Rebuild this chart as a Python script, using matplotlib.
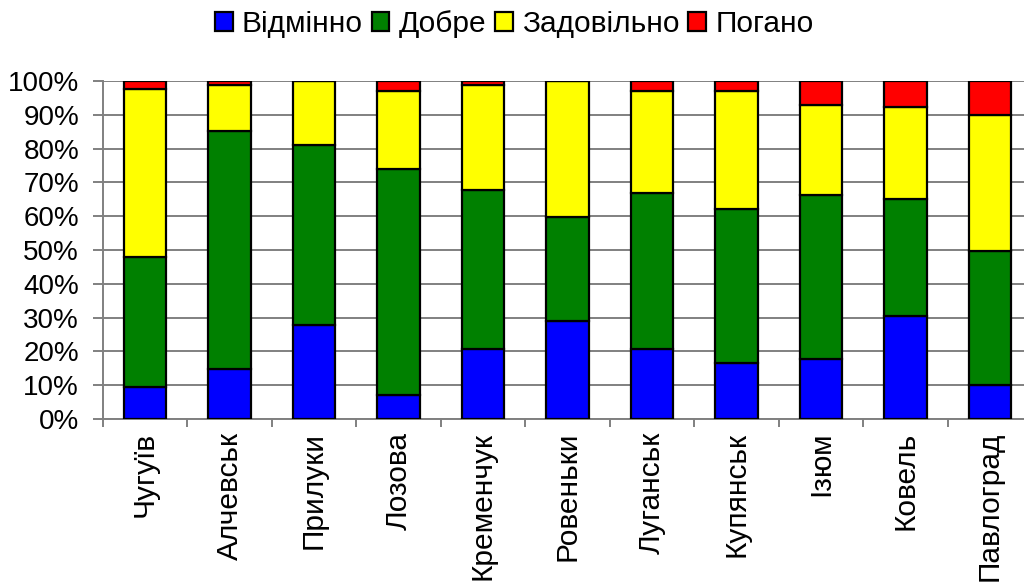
import matplotlib
matplotlib.use("Agg")
import matplotlib.pyplot as plt
import numpy as np
from matplotlib.ticker import PercentFormatter

# Дані (частки у відсотках), зчитані з діаграми
міста = ["Чугуїв", "Алчевськ", "Прилуки", "Лозова", "Кременчук", "Ровеньки",
         "Луганськ", "Купянськ", "Ізюм", "Ковель", "Павлоград"]
відмінно = [9.5, 14.8, 27.8, 7.1, 20.7, 29.0, 20.7, 16.5, 17.7, 30.6, 10.1]
добре = [38.5, 70.4, 53.3, 66.9, 46.9, 30.9, 46.3, 45.7, 48.5, 34.5, 39.6]
задовільно = [49.5, 13.6, 18.9, 22.9, 31.2, 40.1, 29.9, 34.7, 26.7, 27.1, 40.1]
погано = [2.5, 1.2, 0.0, 3.1, 1.2, 0.0, 3.1, 3.1, 7.1, 7.8, 10.2]

серії = [("Відмінно", відмінно, "#0000FF"),
         ("Добре", добре, "#008000"),
         ("Задовільно", задовільно, "#FFFF00"),
         ("Погано", погано, "#FF0000")]

plt.rcParams["font.family"] = ["Liberation Sans", "DejaVu Sans"]
plt.rcParams["font.size"] = 20

fig = plt.figure(figsize=(10.24, 5.83), dpi=100)
ax = fig.add_axes([0.1003, 0.2813, 0.9077, 0.5798])

x = np.arange(len(міста))
низ = np.zeros(len(міста))
for назва, значення, колір in серії:
    ax.bar(x, значення, bottom=низ, width=0.5, color=колір,
           edgecolor="black", linewidth=1.6, label=назва, zorder=3)
    низ += np.array(значення)

ax.set_xlim(-0.5, len(міста) - 0.5)
ax.set_ylim(0, 100)
ax.set_yticks(np.arange(0, 101, 10))
ax.yaxis.set_major_formatter(PercentFormatter(decimals=0))
ax.grid(axis="y", color="#808080", linewidth=1.4, zorder=0)

ax.set_xticks(x)
ax.set_xticklabels(міста, rotation=90, va="top", ha="center", fontsize=21.5)
ax.tick_params(axis="x", length=0, pad=9)
ax.set_xticks(np.arange(-0.5, len(міста), 1), minor=True)
ax.tick_params(axis="x", which="minor", length=6, color="#808080", width=1.4)
ax.tick_params(axis="y", length=7, color="#808080", width=1.4, pad=10)

for s in ["top", "right"]:
    ax.spines[s].set_visible(False)
for s in ["left", "bottom"]:
    ax.spines[s].set_color("#808080")
    ax.spines[s].set_linewidth(1.4)

fig.legend(loc="center", bbox_to_anchor=(0.502, 0.958), ncol=4, frameon=False,
           fontsize=21.5, handlelength=0.6, handleheight=0.6, handletextpad=0.3,
           columnspacing=0.3, borderaxespad=0)

fig.savefig("out.png", dpi=100)
